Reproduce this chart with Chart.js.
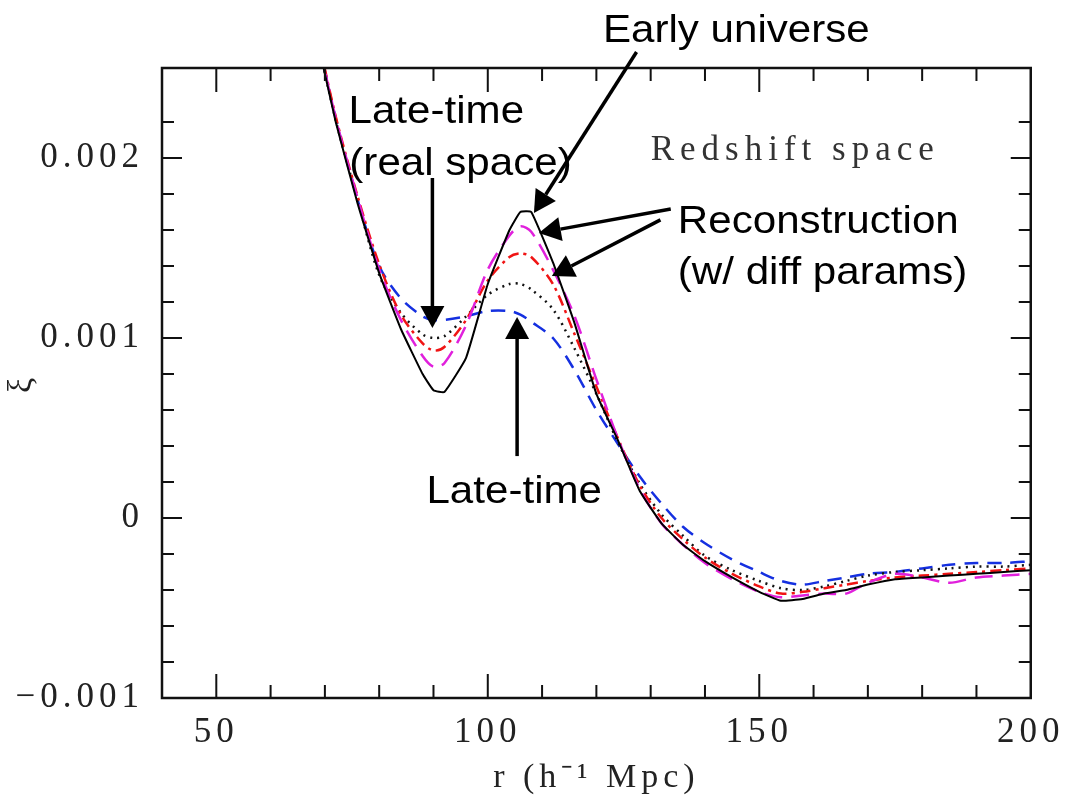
<!DOCTYPE html>
<html>
<head>
<meta charset="utf-8">
<script src="https://cdn.jsdelivr.net/npm/chart.js@4"></script>
<style>
  body { margin: 0; background: #fff; }
  canvas { display: block; }
</style>
</head>
<body>
<canvas id="xi" width="1071" height="804"></canvas>
<script>
// separation r (h^-1 Mpc) shared by all curves
const radius = [68, 72, 76, 80, 84, 88, 90, 92, 96, 100, 104, 106, 108, 112, 116, 120, 124, 128, 132, 136,
  140, 145, 150, 154, 158, 162, 166, 170, 175, 180, 185, 190, 195, 200];

// early universe (solid black)
const xiEarly = [0.00274, 0.00220, 0.00175, 0.00136, 0.00105, 0.00080, 0.00071, 0.00070, 0.00089, 0.00130,
  0.00160, 0.00170, 0.00170, 0.00142, 0.00108, 0.00069, 0.00043, 0.00015, -0.00003, -0.00015,
  -0.00024, -0.00033, -0.00041, -0.00046, -0.00045, -0.00042, -0.00040, -0.00037, -0.00034, -0.00033,
  -0.00032, -0.00031, -0.00030, -0.00029];

// reconstruction, first parameter set (magenta long dash)
const xiRecon1 = [0.00276, 0.00222, 0.00178, 0.00138, 0.00110, 0.00090, 0.00084, 0.00086, 0.00107, 0.00138,
  0.00157, 0.00162, 0.00159, 0.00138, 0.00112, 0.00077, 0.00044, 0.00016, -0.00003, -0.00015,
  -0.00025, -0.00034, -0.00041, -0.00044, -0.00043, -0.00042, -0.00042, -0.00036, -0.00031, -0.00033,
  -0.00036, -0.00033, -0.00032, -0.00031];

// reconstruction, second parameter set (red dash-dot)
const xiRecon2 = [0.00277, 0.00223, 0.00179, 0.00141, 0.00113, 0.00097, 0.00093, 0.00095, 0.00110, 0.00132,
  0.00145, 0.00147, 0.00145, 0.00130, 0.00102, 0.00073, 0.00044, 0.00018, 0.00000, -0.00012,
  -0.00022, -0.00031, -0.00038, -0.00042, -0.00041, -0.00039, -0.00037, -0.00035, -0.00033, -0.00032,
  -0.00031, -0.00030, -0.00029, -0.00028];

// late time, real space (black dotted)
const xiLateReal = [0.00275, 0.00221, 0.00177, 0.00135, 0.00114, 0.00102, 0.00100, 0.00101, 0.00112, 0.00124,
  0.00130, 0.00130, 0.00127, 0.00116, 0.00094, 0.00069, 0.00042, 0.00019, 0.00002, -0.00010,
  -0.00021, -0.00029, -0.00035, -0.00039, -0.00040, -0.00038, -0.00035, -0.00032, -0.00030, -0.00029,
  -0.00028, -0.00027, -0.00027, -0.00026];

// late time, redshift space (blue dashed)
const xiLateRedshift = [0.00276, 0.00222, 0.00177, 0.00140, 0.00122, 0.00112, 0.00110, 0.00110, 0.00112, 0.00115,
  0.00115, 0.00113, 0.00109, 0.00100, 0.00082, 0.00060, 0.00041, 0.00023, 0.00008, -0.00005,
  -0.00014, -0.00023, -0.00030, -0.00035, -0.00037, -0.00035, -0.00033, -0.00031, -0.00030, -0.00028,
  -0.00026, -0.00025, -0.00025, -0.00024];

const pts = ys => radius.map((r, i) => ({ x: r, y: ys[i] }));

// text notes and arrows, placed in data units
const notes = [
  { text: 'Early universe', r: 121.2, xi: 0.002644 },
  { text: 'Late-time', r: 74.35, xi: 0.002194 },
  { text: '(real space)', r: 74.5, xi: 0.001906 },
  { text: 'Reconstruction', r: 135.0, xi: 0.001583 },
  { text: '(w/ diff params)', r: 135.0, xi: 0.0013 },
  { text: 'Late-time', r: 88.7, xi: 0.0000833 }
];
const arrows = [
  { from: [127.4, 0.002589], to: [108.5, 0.001694] },
  { from: [89.8, 0.001889], to: [89.8, 0.001056] },
  { from: [133.7, 0.001717], to: [109.4, 0.001583] },
  { from: [131.8, 0.001656], to: [111.8, 0.001344] },
  { from: [105.4, 0.000344], to: [105.4, 0.001117] }
];

const isMajorY = v => Math.abs(v * 1000 - Math.round(v * 1000)) < 1e-6;

function drawArrow(ctx, x0, y0, x1, y1) {
  const a = Math.atan2(y1 - y0, x1 - x0);
  const L = 22, W = 12;
  const bx = x1 - L * Math.cos(a), by = y1 - L * Math.sin(a);
  ctx.beginPath();
  ctx.moveTo(x0, y0);
  ctx.lineTo(bx, by);
  ctx.stroke();
  ctx.beginPath();
  ctx.moveTo(x1, y1);
  ctx.lineTo(bx + W * Math.sin(a), by - W * Math.cos(a));
  ctx.lineTo(bx - W * Math.sin(a), by + W * Math.cos(a));
  ctx.closePath();
  ctx.fill();
}

const framePlugin = {
  id: 'frame',
  beforeDraw(chart) {
    const ctx = chart.ctx;
    ctx.save();
    ctx.fillStyle = '#fff';
    ctx.fillRect(0, 0, chart.width, chart.height);
    ctx.restore();
    ctx.letterSpacing = '5px';
  },
  afterDatasetsDraw(chart) {
    const ctx = chart.ctx;
    const { left, right, top, bottom } = chart.chartArea;
    const xs = chart.scales.x, ys = chart.scales.y;
    ctx.save();
    ctx.strokeStyle = '#111';
    ctx.lineWidth = 2.5;
    ctx.strokeRect(left, top, right - left, bottom - top);
    ctx.lineWidth = 2;
    ctx.beginPath();
    xs.ticks.forEach(t => {
      if (t.value <= xs.min || t.value >= xs.max) return;
      const px = xs.getPixelForValue(t.value);
      const len = t.value % 50 === 0 ? 24 : 13;
      ctx.moveTo(px, bottom); ctx.lineTo(px, bottom - len);
      ctx.moveTo(px, top); ctx.lineTo(px, top + len);
    });
    ys.ticks.forEach(t => {
      if (t.value <= ys.min || t.value >= ys.max) return;
      const py = ys.getPixelForValue(t.value);
      const len = isMajorY(t.value) ? 20 : 12;
      ctx.moveTo(left, py); ctx.lineTo(left + len, py);
      ctx.moveTo(right, py); ctx.lineTo(right - len, py);
    });
    ctx.stroke();

    ctx.fillStyle = '#333';
    ctx.font = '35px "Liberation Serif"';
    ctx.letterSpacing = '6px';
    ctx.textBaseline = 'alphabetic';
    ctx.fillText('Redshift space', xs.getPixelForValue(130.0), ys.getPixelForValue(0.001989));
    ctx.restore();
  },
  afterDraw(chart) {
    const ctx = chart.ctx;
    const xs = chart.scales.x, ys = chart.scales.y;
    ctx.save();
    ctx.letterSpacing = '0px';
    ctx.fillStyle = '#000';
    ctx.strokeStyle = '#000';
    ctx.lineWidth = 3.5;
    ctx.font = '39px "Liberation Sans"';
    ctx.textBaseline = 'alphabetic';
    notes.forEach(n => {
      ctx.save();
      ctx.translate(xs.getPixelForValue(n.r), ys.getPixelForValue(n.xi));
      ctx.scale(1.08, 1);
      ctx.fillText(n.text, 0, 0);
      ctx.restore();
    });
    arrows.forEach(a => {
      drawArrow(ctx,
        xs.getPixelForValue(a.from[0]), ys.getPixelForValue(a.from[1]),
        xs.getPixelForValue(a.to[0]), ys.getPixelForValue(a.to[1]));
    });
    ctx.restore();
  }
};

const serif = size => ({ family: '"Liberation Serif", serif', size: size });

new Chart(document.getElementById('xi'), {
  type: 'line',
  data: {
    datasets: [
      { label: 'Early universe', data: pts(xiEarly), borderColor: '#000', borderWidth: 2, tension: 0.12 },
      { label: 'Reconstruction 1', data: pts(xiRecon1), borderColor: '#e020dc', borderWidth: 2.5, borderDash: [18, 9], tension: 0.3 },
      { label: 'Reconstruction 2', data: pts(xiRecon2), borderColor: '#f01414', borderWidth: 2.5, borderDash: [11, 5, 3, 5], tension: 0.3 },
      { label: 'Late-time (real space)', data: pts(xiLateReal), borderColor: '#111', borderWidth: 2.5, borderDash: [2, 5], tension: 0.3 },
      { label: 'Late-time', data: pts(xiLateRedshift), borderColor: '#1530e0', borderWidth: 2.5, borderDash: [14, 9], tension: 0.3 }
    ]
  },
  options: {
    responsive: false,
    devicePixelRatio: 1,
    animation: false,
    pointRadius: 0,
    elements: { point: { radius: 0 } },
    layout: { padding: { top: 68, right: 38, left: 0, bottom: 0 } },
    plugins: { legend: { display: false }, tooltip: { enabled: false } },
    scales: {
      x: {
        type: 'linear',
        min: 40,
        max: 200,
        grid: { display: false, drawTicks: false },
        border: { display: false },
        ticks: {
          stepSize: 10,
          autoSkip: false,
          maxRotation: 0,
          padding: 14,
          color: '#222',
          font: serif(35),
          callback: v => (v % 50 === 0 ? String(v) : '')
        },
        title: { display: true, text: 'r (h⁻¹ Mpc)', color: '#222', font: serif(34), padding: { top: 0, bottom: 6 } },
        afterFit: s => { s.height = 106; }
      },
      y: {
        min: -0.001,
        max: 0.0025,
        grid: { display: false, drawTicks: false },
        border: { display: false },
        ticks: {
          stepSize: 0.0002,
          autoSkip: false,
          padding: 18,
          color: '#222',
          font: serif(35),
          callback: v => {
            if (!isMajorY(v)) return '';
            const k = Math.round(v * 1000);
            if (k === 0) return '0';
            return (k < 0 ? '\u2212' : '') + (Math.abs(k) / 1000).toFixed(3);
          }
        },
        title: { display: true, text: 'ξ', color: '#222', font: serif(34), padding: { top: 2, bottom: 0 } },
        afterFit: s => { s.width = 162; }
      }
    }
  },
  plugins: [framePlugin]
});
</script>
</body>
</html>
